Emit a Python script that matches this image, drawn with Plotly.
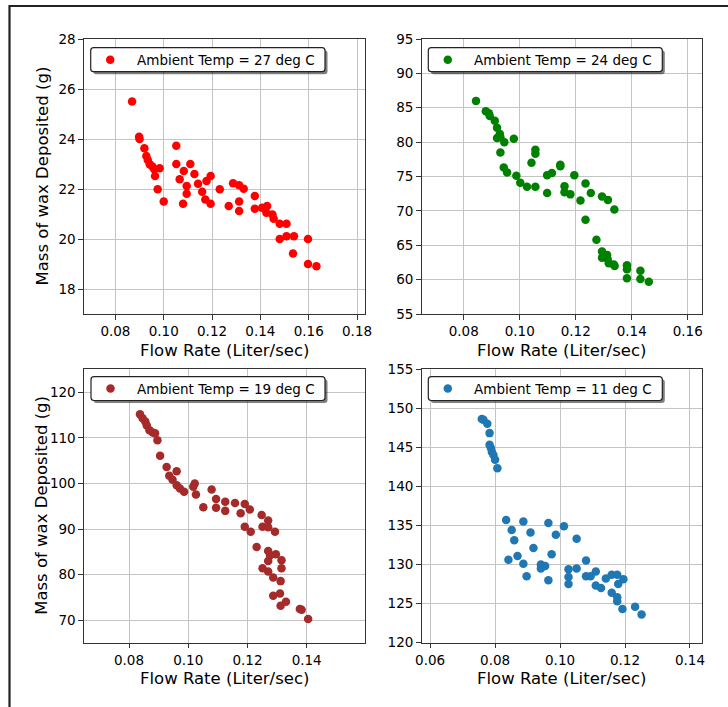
import plotly.graph_objects as go

W, H = 728, 707

# ---------------- data ----------------
flow_27 = [0.0869, 0.0898, 0.0900, 0.0920, 0.0928, 0.0934, 0.0942, 0.0953, 0.0961, 0.0983,
           0.0964, 0.0975, 0.1000, 0.1052, 0.1052, 0.1066, 0.1083, 0.1080, 0.1095, 0.1095,
           0.1110, 0.1127, 0.1142, 0.1159, 0.1172, 0.1177, 0.1194, 0.1194, 0.1232, 0.1269,
           0.1287, 0.1312, 0.1312, 0.1312, 0.1331, 0.1377, 0.1377, 0.1407, 0.1428, 0.1425,
           0.1450, 0.1455, 0.1480, 0.1508, 0.1480, 0.1508, 0.1539, 0.1535, 0.1597, 0.1597,
           0.1632]
wax_27 = [25.50, 24.09, 24.00, 23.63, 23.32, 23.16, 22.99, 22.90, 22.79, 22.83,
          22.52, 21.99, 21.50, 23.73, 23.00, 22.39, 22.72, 21.41, 22.12, 21.81,
          23.00, 22.60, 22.21, 21.89, 21.58, 22.32, 22.52, 21.41, 21.99, 21.32,
          22.23, 22.15, 21.50, 21.12, 22.01, 21.72, 21.21, 21.25, 21.32, 21.05,
          20.98, 20.81, 20.61, 20.61, 20.00, 20.11, 20.11, 19.42, 20.00, 19.00,
          18.91]

flow_24 = [0.0844, 0.0879, 0.0890, 0.0893, 0.0911, 0.0919, 0.0929, 0.0931, 0.0919, 0.0945,
           0.0979, 0.0931, 0.0943, 0.0955, 0.0988, 0.1002, 0.1026, 0.1056, 0.1042, 0.1056,
           0.1056, 0.1098, 0.1115, 0.1098, 0.1145, 0.1145, 0.1160, 0.1160, 0.1181, 0.1195,
           0.1217, 0.1235, 0.1254, 0.1235, 0.1294, 0.1315, 0.1338, 0.1274, 0.1294, 0.1294,
           0.1312, 0.1314, 0.1318, 0.1336, 0.1339, 0.1383, 0.1383, 0.1383, 0.1431, 0.1431,
           0.1461]
wax_24 = [86.0, 84.5, 84.2, 83.8, 83.1, 82.1, 81.2, 80.7, 80.6, 80.0,
          80.5, 78.5, 76.3, 75.6, 75.1, 74.1, 73.5, 73.5, 77.0, 78.9,
          78.3, 75.2, 75.5, 72.6, 76.7, 76.5, 73.6, 72.7, 72.4, 75.2,
          71.5, 74.0, 72.6, 68.7, 72.1, 71.6, 70.2, 65.8, 64.1, 63.2,
          63.6, 63.0, 62.4, 62.2, 62.0, 62.1, 61.5, 60.2, 61.3, 60.1,
          59.7]

flow_19 = [0.0837, 0.0846, 0.0855, 0.0860, 0.0869, 0.0880, 0.0888, 0.0896, 0.0905, 0.0927,
           0.0961, 0.0936, 0.0947, 0.0961, 0.0972, 0.0986, 0.1017, 0.1022, 0.1026, 0.1051,
           0.1079, 0.1094, 0.1094, 0.1125, 0.1125, 0.1158, 0.1191, 0.1177, 0.1208, 0.1191,
           0.1211, 0.1248, 0.1270, 0.1251, 0.1270, 0.1293, 0.1231, 0.1270, 0.1276, 0.1296,
           0.1315, 0.1270, 0.1251, 0.1270, 0.1287, 0.1315, 0.1312, 0.1287, 0.1310, 0.1330,
           0.1312, 0.1377, 0.1383, 0.1405]
wax_19 = [115.2, 114.3, 113.6, 112.7, 111.7, 111.2, 111.0, 109.5, 106.1, 103.6,
          102.7, 101.7, 100.8, 99.6, 98.9, 98.2, 99.3, 100.0, 97.6, 94.8,
          98.7, 96.6, 94.7, 96.0, 94.0, 95.7, 95.5, 93.5, 94.3, 90.5,
          89.4, 93.1, 91.9, 90.5, 90.4, 89.4, 86.1, 85.2, 84.3, 84.5,
          83.2, 83.0, 81.4, 80.7, 79.4, 81.4, 78.6, 75.4, 75.9, 74.1,
          73.2, 72.5, 72.3, 70.3]

flow_11 = [0.0759, 0.0764, 0.0776, 0.0783, 0.0783, 0.0787, 0.0790, 0.0795, 0.0800, 0.0807,
           0.0834, 0.0841, 0.0851, 0.0859, 0.0869, 0.0887, 0.0887, 0.0897, 0.0909, 0.0918,
           0.0941, 0.0941, 0.0954, 0.0964, 0.0964, 0.0974, 0.0987, 0.1012, 0.1026, 0.1026,
           0.1026, 0.1051, 0.1051, 0.1080, 0.1080, 0.1094, 0.1110, 0.1110, 0.1126, 0.1141,
           0.1159, 0.1176, 0.1179, 0.1195, 0.1159, 0.1176, 0.1176, 0.1192, 0.1231, 0.1251]
wax_11 = [148.6, 148.5, 148.0, 146.8, 145.3, 144.9, 144.4, 144.0, 143.4, 142.3,
          135.7, 130.6, 134.4, 133.1, 131.1, 135.5, 130.1, 128.5, 134.1, 132.1,
          130.0, 129.5, 129.8, 135.3, 128.0, 131.3, 133.8, 134.9, 129.4, 128.4,
          127.5, 129.5, 133.3, 130.5, 128.5, 128.5, 129.1, 127.3, 127.0, 128.2,
          128.7, 128.7, 127.5, 128.1, 126.4, 125.8, 125.3, 124.3, 124.6, 123.6]

series_names = ["Ambient Temp = 27 deg C", "Ambient Temp = 24 deg C",
                "Ambient Temp = 19 deg C", "Ambient Temp = 11 deg C"]
series_colors = ["#ff0000", "#008000", "#a52a2a", "#1f77b4"]
series_flow = [flow_27, flow_24, flow_19, flow_11]
series_wax = [wax_27, wax_24, wax_19, wax_11]

x_ranges = [[0.067, 0.1833], [0.065, 0.1651], [0.0648, 0.1597], [0.0574, 0.1437]]
y_ranges = [[17, 28], [55, 95], [65.1, 125.1], [120, 155]]
x_ticks = [[0.08, 0.10, 0.12, 0.14, 0.16, 0.18], [0.08, 0.10, 0.12, 0.14, 0.16],
           [0.08, 0.10, 0.12, 0.14], [0.06, 0.08, 0.10, 0.12, 0.14]]
y_ticks = [[18, 20, 22, 24, 26, 28], [55, 60, 65, 70, 75, 80, 85, 90, 95],
           [70, 80, 90, 100, 110, 120], [120, 125, 130, 135, 140, 145, 150, 155]]

x_title = "Flow Rate (Liter/sec)"
y_title = "Mass of wax Deposited (g)"

# ---------------- layout geometry (pixels) ----------------
boxes = [(84, 365, 39, 314), (421.7, 702, 39, 314),
         (84, 365, 369, 642.7), (421.7, 702, 369, 642.7)]
legend_boxes = [(90.7, 325, 47.7, 71.7), (428.3, 662.3, 47.7, 71.7),
                (91, 325, 376.7, 400.5), (428.3, 662.3, 376.7, 400.5)]


def px(x):
    return x / W


def py(y):
    return 1 - y / H


def rounded_rect(x0, x1, y0, y1, r):
    # path in paper units, corners rounded by r pixels
    pts = [
        f"M{px(x0 + r)},{py(y0)}",
        f"L{px(x1 - r)},{py(y0)}",
        f"Q{px(x1)},{py(y0)} {px(x1)},{py(y0 + r)}",
        f"L{px(x1)},{py(y1 - r)}",
        f"Q{px(x1)},{py(y1)} {px(x1 - r)},{py(y1)}",
        f"L{px(x0 + r)},{py(y1)}",
        f"Q{px(x0)},{py(y1)} {px(x0)},{py(y1 - r)}",
        f"L{px(x0)},{py(y0 + r)}",
        f"Q{px(x0)},{py(y0)} {px(x0 + r)},{py(y0)}",
        "Z",
    ]
    return " ".join(pts)


FONT = "DejaVu Sans"
fig = go.Figure()
layout = dict(
    width=W, height=H, margin=dict(l=0, r=0, t=0, b=0, autoexpand=False),
    paper_bgcolor="white", plot_bgcolor="white",
    font=dict(family=FONT, size=13.5, color="black"),
    showlegend=False,
)
shapes = []
annotations = []

for i in range(4):
    sfx = "" if i == 0 else str(i + 1)
    fig.add_trace(go.Scatter(
        x=series_flow[i], y=series_wax[i], mode="markers",
        name=series_names[i],
        marker=dict(color=series_colors[i], size=8.5, line=dict(width=0)),
        xaxis="x" + sfx, yaxis="y" + sfx,
    ))
    x0, x1, y0, y1 = boxes[i]
    axis_common = dict(
        showline=True, mirror=True, linecolor="#333333", linewidth=1.2,
        ticks="outside", ticklen=4.5, tickwidth=1, tickcolor="#333333",
        showgrid=True, gridcolor="#c4c4c4", gridwidth=1, zeroline=False,
        automargin=False,
        tickfont=dict(family=FONT, size=13.5, color="black"),
    )
    layout["xaxis" + sfx] = dict(
        axis_common, domain=[px(x0), px(x1)], range=x_ranges[i],
        tickvals=x_ticks[i], tickformat=".2f",
        anchor="y" + sfx,
    )
    layout["yaxis" + sfx] = dict(
        axis_common, domain=[py(y1), py(y0)], range=y_ranges[i],
        tickvals=y_ticks[i], anchor="x" + sfx,
    )

    # ---- legend (box with drop shadow, marker glyph, label) ----
    lx0, lx1, ly0, ly1 = legend_boxes[i]
    shapes.append(dict(type="path", xref="paper", yref="paper", layer="above",
                       path=rounded_rect(lx0 + 2.5, lx1 + 2.5, ly0 + 2.5, ly1 + 2.5, 3),
                       fillcolor="rgba(0,0,0,0.5)", line=dict(width=0)))
    shapes.append(dict(type="path", xref="paper", yref="paper", layer="above",
                       path=rounded_rect(lx0, lx1, ly0, ly1, 3),
                       fillcolor="white", line=dict(color="#222222", width=1.2)))
    cx, cy, rr = lx0 + 19.5, (ly0 + ly1) / 2, 4.25
    shapes.append(dict(type="circle", xref="paper", yref="paper", layer="above",
                       x0=px(cx - rr), x1=px(cx + rr), y0=py(cy + rr), y1=py(cy - rr),
                       fillcolor=series_colors[i], line=dict(width=0)))
    annotations.append(dict(text=series_names[i], xref="paper", yref="paper",
                            x=px(lx0 + 44), y=py(cy), showarrow=False,
                            xanchor="left", yanchor="middle",
                            font=dict(family=FONT, size=13.5, color="black")))

    # axis titles
    annotations.append(dict(text=x_title, xref="paper", yref="paper",
                            x=px((x0 + x1) / 2), y=py(y1 + 36), showarrow=False,
                            xanchor="center", yanchor="middle",
                            font=dict(family=FONT, size=16.5, color="black")))
    if i % 2 == 0:
        annotations.append(dict(text=y_title, xref="paper", yref="paper",
                                x=px(42), y=py((y0 + y1) / 2), showarrow=False,
                                textangle=-90, xanchor="center", yanchor="middle",
                                font=dict(family=FONT, size=16.5, color="black")))

# outer frame of the figure image
shapes.append(dict(type="rect", xref="paper", yref="paper", layer="above",
                   x0=px(9.5), x1=px(W + 20), y0=py(H + 20), y1=py(6),
                   line=dict(color="#222222", width=2.2), fillcolor="rgba(0,0,0,0)"))

layout["shapes"] = shapes
layout["annotations"] = annotations
fig.update_layout(**layout)
fig.write_html("out.html")
